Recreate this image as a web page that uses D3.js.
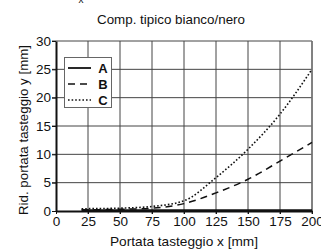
<!DOCTYPE html>
<html>
<head>
<meta charset="utf-8">
<script src="https://cdn.jsdelivr.net/npm/d3@7"></script>
<style>
  body { margin: 0; background: #fff; }
  text { font-family: "Liberation Sans", Arial, sans-serif; fill: #111; }
</style>
</head>
<body>
<svg id="chart" width="321" height="250"></svg>
<script>
// values
var xValues = [20, 50, 75, 100, 125, 150, 175, 200];
var seriesA = [0.1, 0.1, 0.1, 0.1, 0.1, 0.1, 0.1, 0.1];
var seriesB = [0.2, 0.3, 0.5, 1.3, 3.2, 5.6, 8.8, 12.1];
var seriesC = [0.4, 0.5, 0.8, 1.8, 5.9, 10.9, 17.1, 25.0];
var seriesNames = ["A", "B", "C"];
var xTicks = [0, 25, 50, 75, 100, 125, 150, 175, 200];
var yTicks = [0, 5, 10, 15, 20, 25, 30];

var styles = {
  A: { width: 2.6, dash: null },
  B: { width: 1.5, dash: "7,5" },
  C: { width: 1.6, dash: "1.6,2" }
};

function drawChart(){
  var svg = d3.select("#chart");
  var left = 56, right = 312, top = 41, bottom = 211;

  var x = d3.scaleLinear().domain([0, 200]).range([left, right]);
  var y = d3.scaleLinear().domain([0, 30]).range([bottom, top]);

  svg.append("text")
      .attr("x", 81).attr("y", 3)
      .attr("font-size", "10px")
      .style("text-anchor", "middle")
      .text("x");

  svg.append("text")
      .attr("x", 171).attr("y", 24)
      .attr("font-size", "13px")
      .attr("textLength", 148)
      .attr("lengthAdjust", "spacingAndGlyphs")
      .style("text-anchor", "middle")
      .text("Comp. tipico bianco/nero");

  // grid
  svg.append("g").selectAll("line")
      .data(xTicks.slice(1))
      .enter().append("line")
      .attr("x1", d => x(d)).attr("x2", d => x(d))
      .attr("y1", top).attr("y2", bottom + 3)
      .attr("stroke", "#444").attr("stroke-width", 1);

  svg.append("g").selectAll("line")
      .data(yTicks.slice(1))
      .enter().append("line")
      .attr("x1", left - 4).attr("x2", right)
      .attr("y1", d => y(d)).attr("y2", d => y(d))
      .attr("stroke", "#444").attr("stroke-width", 1);

  svg.append("line")
      .attr("x1", right).attr("x2", right)
      .attr("y1", top).attr("y2", bottom)
      .attr("stroke", "#777").attr("stroke-width", 1.5);

  // axes
  var xAxis = svg.append("g")
      .attr("transform", "translate(0," + bottom + ")")
      .call(d3.axisBottom(x).tickValues(xTicks).tickSize(3).tickSizeOuter(0));
  var yAxis = svg.append("g")
      .attr("transform", "translate(" + left + ",0)")
      .call(d3.axisLeft(y).tickValues(yTicks).tickSize(4).tickSizeOuter(0));

  [xAxis, yAxis].forEach(function(a){
    a.select(".domain").attr("stroke", "#111").attr("stroke-width", 2);
    a.selectAll(".tick line").attr("stroke", "#111");
    a.selectAll(".tick text")
      .attr("font-family", null)
      .attr("font-size", "13.5px")
      .attr("fill", "#111");
  });
  xAxis.selectAll(".tick text").attr("y", 5);
  yAxis.selectAll(".tick text").attr("x", -5);

  svg.append("text")
      .attr("x", 184).attr("y", 246)
      .attr("font-size", "13.5px")
      .attr("textLength", 148)
      .attr("lengthAdjust", "spacingAndGlyphs")
      .style("text-anchor", "middle")
      .text("Portata tasteggio x [mm]");

  svg.append("text")
      .attr("transform", "translate(28,130) rotate(-90)")
      .attr("font-size", "13.5px")
      .attr("textLength", 170)
      .attr("lengthAdjust", "spacingAndGlyphs")
      .style("text-anchor", "middle")
      .text("Rid. portata tasteggio y [mm]");

  // series
  var all = { A: seriesA, B: seriesB, C: seriesC };
  var line = d3.line()
      .x((d, i) => x(xValues[i]))
      .y(d => y(d))
      .curve(d3.curveMonotoneX);

  seriesNames.forEach(function(name){
    svg.append("path")
        .datum(all[name])
        .attr("d", line)
        .attr("fill", "none")
        .attr("stroke", "#111")
        .attr("stroke-width", styles[name].width)
        .attr("stroke-dasharray", styles[name].dash);
  });

  // legend
  var legend = svg.append("g");
  legend.append("rect")
      .attr("x", 64.5).attr("y", 57.5)
      .attr("width", 47).attr("height", 50)
      .attr("fill", "#fff")
      .attr("stroke", "#666");

  var rowY = d3.scalePoint().domain(seriesNames).range([68, 100]);
  seriesNames.forEach(function(name){
    legend.append("line")
        .attr("x1", 68).attr("x2", 91)
        .attr("y1", rowY(name)).attr("y2", rowY(name))
        .attr("stroke", "#111")
        .attr("stroke-width", styles[name].width === 2.6 ? 1.8 : styles[name].width)
        .attr("stroke-dasharray", styles[name].dash);
    legend.append("text")
        .attr("x", 103).attr("y", rowY(name) + 5)
        .attr("font-size", "13px")
        .attr("font-weight", "bold")
        .style("text-anchor", "middle")
        .text(name);
  });
}

drawChart();
</script>
</body>
</html>
